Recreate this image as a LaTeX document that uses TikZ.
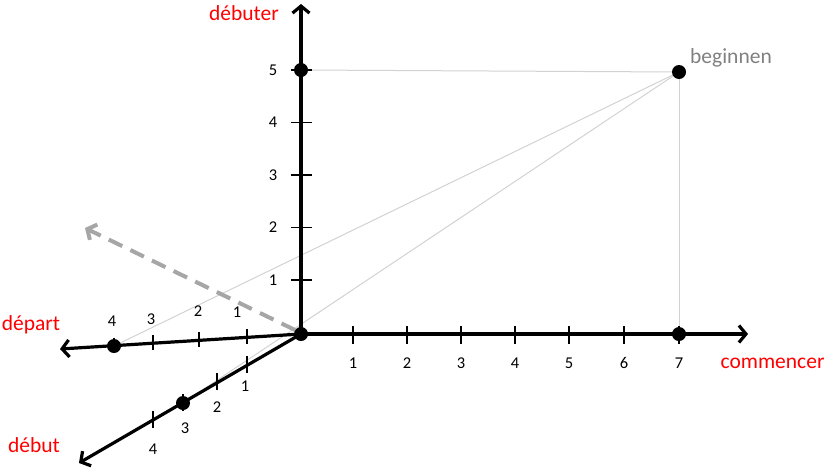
\documentclass[tikz,border=0pt]{standalone}
\usepackage{fontspec}
\setmainfont{Carlito}
\usetikzlibrary{arrows.meta}

\definecolor{axisred}{RGB}{255,0,0}
\definecolor{guidegray}{RGB}{210,210,210}
\definecolor{dashgray}{RGB}{166,166,166}
\definecolor{namegray}{RGB}{128,128,128}

\tikzset{
  axis/.style={line width=3.2pt, -{Straight Barb[length=7pt,width=17pt]}},
  tickmark/.style={line width=1.1pt},
  guide/.style={guidegray, line width=1pt},
  dot/.style={circle, fill=black, inner sep=0pt, minimum size=14pt},
  num/.style={font=\fontsize{16.5}{19}\selectfont},
  axisname/.style={text=axisred, font=\fontsize{21.5}{25}\selectfont},
}

\begin{document}
\begin{tikzpicture}[x=1pt,y=-1pt]
  \useasboundingbox (0,0) rectangle (827,467);

  % points
  \coordinate (O) at (301,334);
  \coordinate (ytip) at (301,4);
  \coordinate (xtip) at (748,334);
  \coordinate (dtip) at (60,349);
  \coordinate (utip) at (79,463);
  \coordinate (b5) at (301,70);
  \coordinate (c7) at (679,334);
  \coordinate (d4) at (114,346);
  \coordinate (u3) at (183,403);
  \coordinate (P) at (679,72);
  \coordinate (dash0) at (295,330);
  \coordinate (dash1) at (85,228);

  % guide lines
  \draw[guide] (b5) -- (P);
  \draw[guide] (P) -- (c7);
  \draw[guide] (P) -- (d4);
  \draw[guide] (P) -- (u3);

  % dashed direction
  \draw[dashgray, line width=4pt, dash pattern=on 15pt off 9pt,
        -{Straight Barb[length=7pt,width=17pt]}] (dash0) -- (dash1);

  % axes
  \draw[axis] (O) -- (ytip);
  \draw[axis] (O) -- (xtip);
  \draw[axis] (O) -- (dtip);
  \draw[axis] (O) -- (utip);

  % ticks on the vertical axis
  \foreach \i/\y in {1/280,2/227.5,3/175,4/122.5,5/70} {
    \draw[tickmark] (291,\y) -- (312,\y);
    \node[num] (v\i) at (273,\y) {\i};
  }
  % ticks on the horizontal axis
  \foreach \i/\x in {1/353,2/407,3/461,4/515,5/569,6/624,7/679} {
    \draw[tickmark] (\x,326) -- (\x,344);
    \node[num] (h\i) at (\x,363) {\i};
  }
  % ticks on the left axis
  \foreach \i/\x/\y/\lx/\ly in {1/247/337.4/237/312,2/199/340.4/198/311,3/153/343.3/151/319,4/114/346/112/321} {
    \draw[tickmark] (\x,\y-8) -- (\x,\y+7);
    \node[num] (l\i) at (\lx,\ly) {\i};
  }
  % ticks on the front axis
  \foreach \i/\x/\y/\lx/\ly in {1/247/365/245/386,2/217/382/217/407,3/183/403/185/428,4/153/420/153/449} {
    \draw[tickmark] (\x,\y-9) -- (\x,\y+8);
    \node[num] (f\i) at (\lx,\ly) {\i};
  }

  % dots
  \node[dot] (ndO) at (O) {};
  \node[dot] (nd5) at (b5) {};
  \node[dot] (nd7) at (c7) {};
  \node[dot] (ndd) at (d4) {};
  \node[dot] (ndu) at (u3) {};
  \node[dot] (ndP) at (P) {};

  % names
  \node[axisname] (debuter) at (244,13) {débuter};
  \node[axisname] (depart) at (31,325) {départ};
  \node[axisname] (debut) at (34,445) {début};
  \node[axisname, anchor=east] (commencer) at (828,363) {commencer};
  \node[text=namegray, font=\fontsize{21.5}{25}\selectfont] (beginnen) at (731,58) {beginnen};
\end{tikzpicture}
\end{document}
